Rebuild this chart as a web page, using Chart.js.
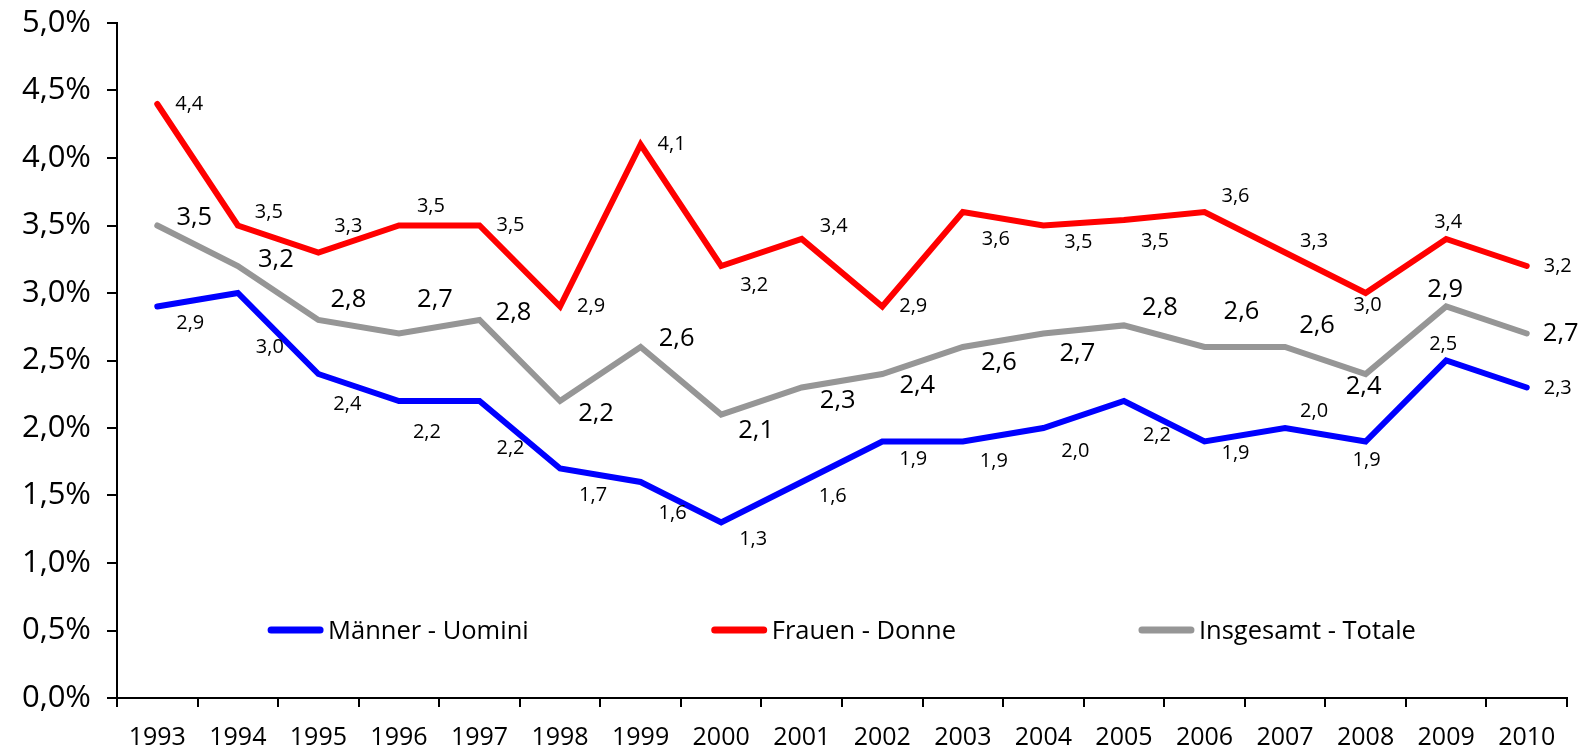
<!DOCTYPE html>
<html>
<head>
    <title>Arbeitslosenquote</title>
    <style>
        html, body {
            margin: 0;
            padding: 0;
            background: #fff;
        }
        .chart-box {
            width: 1589px;
            height: 754px;
        }
    </style>
    <script src="https://cdn.jsdelivr.net/npm/chart.js"></script>
</head>
<body>
    <div class="chart-box">
        <canvas id="rateChart"></canvas>
    </div>

    <script>
        // Data
        const years = ['1993', '1994', '1995', '1996', '1997', '1998', '1999', '2000', '2001',
                       '2002', '2003', '2004', '2005', '2006', '2007', '2008', '2009', '2010'];
        const maenner = [2.9, 3.0, 2.4, 2.2, 2.2, 1.7, 1.6, 1.3, 1.6, 1.9, 1.9, 2.0, 2.2, 1.9, 2.0, 1.9, 2.5, 2.3];
        const frauen = [4.4, 3.5, 3.3, 3.5, 3.5, 2.9, 4.1, 3.2, 3.4, 2.9, 3.6, 3.5, 3.54, 3.6, 3.3, 3.0, 3.4, 3.2];
        const insgesamt = [3.5, 3.2, 2.8, 2.7, 2.8, 2.2, 2.6, 2.1, 2.3, 2.4, 2.6, 2.7, 2.76, 2.6, 2.6, 2.4, 2.9, 2.7];
        const seriesNames = ['Männer - Uomini', 'Frauen - Donne', 'Insgesamt - Totale'];

        // Nudges of the value labels from their points (dx, dy in px)
        const maennerLabelShift = [[33,17],[32,54],[29,30],[28,31],[31,47],[33,27],[32,31],[32,17],[31,14],
                                   [31,18],[31,20],[32,23],[33,34],[31,12],[29,-17],[1,19],[-3,-16],[31,1]];
        const frauenLabelShift = [[32,0],[31,-13],[30,-26],[32,-19],[31,0],[31,0],[31,0],[33,19],[32,-13],
                                  [31,0],[33,27],[35,17],[31,21],[31,-16],[29,-11],[2,12],[2,-17],[31,0]];
        const insgesamtLabelShift = [[37,-8],[38,-6],[30,-20],[36,-34],[34,-7],[36,13],[36,-8],[35,16],[36,13],
                                     [35,12],[36,16],[34,20],[36,-18],[37,-35],[32,-21],[-2,13],[-1,-17],[34,0]];

        const fontFamily = '"Open Sans", "DejaVu Sans", sans-serif';

        function fmt(v) {
            return v.toFixed(1).replace('.', ',');
        }

        // Value labels next to each point
        const valueLabels = {
            id: 'valueLabels',
            afterDatasetsDraw(chart) {
                const ctx = chart.ctx;
                ctx.save();
                ctx.fillStyle = '#000';
                ctx.textAlign = 'center';
                ctx.textBaseline = 'middle';
                chart.data.datasets.forEach((ds, i) => {
                    const meta = chart.getDatasetMeta(i);
                    ctx.font = ds.labelSize + 'px ' + fontFamily;
                    meta.data.forEach((pt, j) => {
                        const s = ds.labelShift[j];
                        ctx.fillText(fmt(ds.data[j]), pt.x + s[0], pt.y + s[1]);
                    });
                });
                ctx.restore();
            }
        };

        // Legend drawn inside the plot area, one row
        const innerLegend = {
            id: 'innerLegend',
            afterDraw(chart) {
                const ctx = chart.ctx;
                const area = chart.chartArea;
                const lineLen = 55, textGap = 5, itemGap = 183;
                ctx.save();
                ctx.font = '25.5px ' + fontFamily;
                const widths = chart.data.datasets.map(ds => ctx.measureText(ds.label).width);
                const total = widths.reduce((a, w) => a + lineLen + textGap + w, 0) + itemGap * (widths.length - 1);
                let x = (area.left + area.right) / 2 - total / 2;
                const y = area.bottom - 68;
                chart.data.datasets.forEach((ds, i) => {
                    ctx.strokeStyle = ds.borderColor;
                    ctx.lineWidth = 7;
                    ctx.lineCap = 'round';
                    ctx.beginPath();
                    ctx.moveTo(x + 3, y);
                    ctx.lineTo(x + lineLen - 3, y);
                    ctx.stroke();
                    ctx.fillStyle = '#000';
                    ctx.textAlign = 'left';
                    ctx.textBaseline = 'middle';
                    ctx.fillText(ds.label, x + lineLen + textGap, y + 2);
                    x += lineLen + textGap + widths[i] + itemGap;
                });
                ctx.restore();
            }
        };

        const ctx = document.getElementById('rateChart').getContext('2d');
        new Chart(ctx, {
            type: 'line',
            data: {
                labels: years,
                datasets: [
                    {
                        label: seriesNames[0],
                        data: maenner,
                        borderColor: '#0000ff',
                        borderWidth: 6,
                        labelSize: 20,
                        labelShift: maennerLabelShift
                    },
                    {
                        label: seriesNames[1],
                        data: frauen,
                        borderColor: '#ff0000',
                        borderWidth: 6,
                        labelSize: 20,
                        labelShift: frauenLabelShift
                    },
                    {
                        label: seriesNames[2],
                        data: insgesamt,
                        borderColor: '#969696',
                        borderWidth: 6,
                        labelSize: 25.5,
                        labelShift: insgesamtLabelShift
                    }
                ]
            },
            options: {
                responsive: true,
                maintainAspectRatio: false,
                animation: false,
                layout: {
                    padding: { top: 23, right: 22, left: 0, bottom: 0 }
                },
                elements: {
                    point: { radius: 0 },
                    line: {
                        tension: 0,
                        fill: false,
                        borderCapStyle: 'round',
                        borderJoinStyle: 'miter'
                    }
                },
                plugins: {
                    legend: { display: false },
                    tooltip: { enabled: false }
                },
                scales: {
                    x: {
                        offset: true,
                        grid: {
                            offset: true,
                            drawOnChartArea: false,
                            tickLength: 9,
                            color: '#000',
                            lineWidth: 2
                        },
                        border: { color: '#000', width: 2 },
                        ticks: {
                            color: '#000',
                            padding: 16,
                            maxRotation: 0,
                            autoSkip: false,
                            font: { family: fontFamily, size: 25 }
                        },
                        afterFit(scale) {
                            scale.height = 56;
                        }
                    },
                    y: {
                        min: 0,
                        max: 5,
                        grid: {
                            drawOnChartArea: false,
                            tickLength: 10,
                            color: '#000',
                            lineWidth: 2
                        },
                        border: { color: '#000', width: 2 },
                        ticks: {
                            stepSize: 0.5,
                            color: '#000',
                            padding: 16,
                            font: { family: fontFamily, size: 31 },
                            callback: value => value.toFixed(1).replace('.', ',') + '%'
                        },
                        afterFit(scale) {
                            // fixed axis width, and no extra room above/below the plot for the labels
                            scale.width = 117;
                            scale.paddingTop = 0;
                            scale.paddingBottom = 0;
                        }
                    }
                }
            },
            plugins: [valueLabels, innerLegend]
        });
    </script>
</body>
</html>
